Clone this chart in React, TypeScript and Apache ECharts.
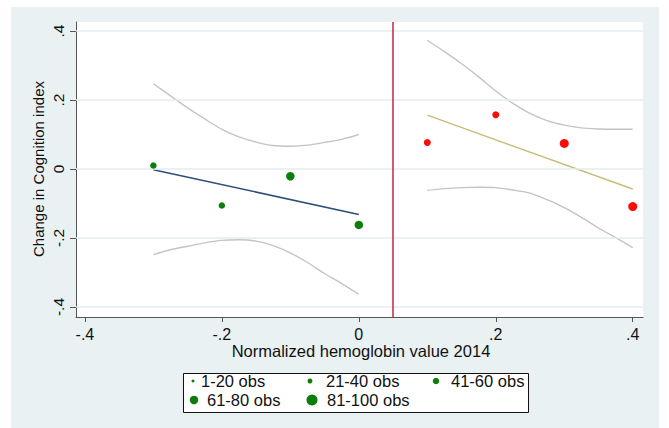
import { useEffect, useRef } from "react";
import * as echarts from "echarts";

// observed group means (x = normalized hemoglobin, y = change in cognition)
const lowX = [-0.3, -0.2, -0.1, 0];
const lowY = [0.01, -0.106, -0.021, -0.162];
const lowBin = [2, 2, 3, 3];

const highX = [0.1, 0.2, 0.3, 0.4];
const highY = [0.077, 0.157, 0.074, -0.109];
const highBin = [2, 2, 3, 3];

// fitted lines
const lowFitX = [-0.3, 0];
const lowFitY = [-0.002, -0.132];
const highFitX = [0.1, 0.4];
const highFitY = [0.156, -0.058];

// confidence bands (read every .025)
const lowCIx = [-0.3, -0.275, -0.25, -0.225, -0.2, -0.175, -0.15, -0.125, -0.1, -0.075, -0.05, -0.025, 0];
const lowUpper = [0.247, 0.212, 0.177, 0.145, 0.115, 0.093, 0.078, 0.068, 0.066, 0.069, 0.077, 0.086, 0.1];
const lowLower = [-0.248, -0.234, -0.224, -0.214, -0.207, -0.205, -0.209, -0.222, -0.243, -0.271, -0.303, -0.332, -0.363];
const highCIx = [0.1, 0.125, 0.15, 0.175, 0.2, 0.225, 0.25, 0.275, 0.3, 0.325, 0.35, 0.375, 0.4];
const highUpper = [0.373, 0.34, 0.305, 0.267, 0.226, 0.19, 0.161, 0.14, 0.127, 0.119, 0.116, 0.115, 0.115];
const highLower = [-0.062, -0.057, -0.054, -0.053, -0.054, -0.061, -0.07, -0.089, -0.112, -0.14, -0.171, -0.199, -0.228];

const cutoff = 0.05;
const xTicks = [-0.4, -0.2, 0, 0.2, 0.4];
const yTicks = [-0.4, -0.2, 0, 0.2, 0.4];
const legendLabels = ["1-20 obs", "21-40 obs", "41-60 obs", "61-80 obs", "81-100 obs"];

const BIN_SIZE = [3, 5, 6.5, 8.5, 11];
const FONT = "'Liberation Sans', Arial, sans-serif";
const GREEN = "#0B7E0B";
const RED = "#FF0A0A";
const CI_GRAY = "#C4C4C4";

function fmt(v: number): string {
  if (Math.abs(v) < 1e-9) return "0";
  const s = String(Math.round(Math.abs(v) * 10) / 10).replace(/^0/, "");
  return (v < 0 ? "-" : "") + s;
}

function zip(xs: number[], ys: number[]) {
  return xs.map((x, i) => [x, ys[i]]);
}

export default function App() {
  const ref = useRef<HTMLDivElement>(null);

  useEffect(() => {
    if (!ref.current) return;
    const chart = echarts.init(ref.current, undefined, { renderer: "svg" });

    // legend drawn by hand (per-item marker sizes)
    const legendPos = [
      { sx: 193, tx: 201, y: 381 },
      { sx: 310, tx: 326, y: 381 },
      { sx: 436, tx: 451, y: 381 },
      { sx: 194, tx: 207, y: 400 },
      { sx: 312, tx: 327, y: 400 },
    ];
    const legendGraphics: any[] = [
      {
        type: "rect",
        shape: { x: 183.5, y: 373.5, width: 345, height: 39 },
        style: { fill: "#fff", stroke: "#111", lineWidth: 1 },
      },
    ];
    legendLabels.forEach((label, i) => {
      const p = legendPos[i];
      legendGraphics.push({
        type: "circle",
        shape: { cx: p.sx, cy: p.y, r: BIN_SIZE[i] / 2 },
        style: { fill: GREEN },
      });
      legendGraphics.push({
        type: "text",
        x: p.tx,
        y: p.y,
        style: { text: label, fontSize: 16.5, fontFamily: FONT, fill: "#111", align: "left", verticalAlign: "middle" },
      });
    });

    const ciLine = (xs: number[], ys: number[]) => ({
      type: "line",
      data: zip(xs, ys),
      smooth: 0.3,
      showSymbol: false,
      lineStyle: { color: CI_GRAY, width: 1.4 },
      z: 3,
    });

    chart.setOption({
      animation: false,
      grid: { left: 76, top: 22, width: 567, height: 295, show: true, backgroundColor: "#fff", borderWidth: 0 },
      xAxis: {
        type: "value",
        min: -0.413,
        max: 0.415,
        axisLine: { onZero: false, lineStyle: { color: "#555", width: 1 } },
        axisTick: { customValues: xTicks, length: 5, lineStyle: { color: "#555" } },
        axisLabel: { customValues: xTicks, formatter: fmt, fontSize: 16, fontFamily: FONT, color: "#111", margin: 9 },
        splitLine: { show: false },
      },
      yAxis: {
        type: "value",
        min: -0.429,
        max: 0.426,
        axisLine: { show: true, onZero: false, lineStyle: { color: "#555", width: 1 } },
        axisTick: { show: true, customValues: yTicks, length: 6, lineStyle: { color: "#555" } },
        axisLabel: { customValues: yTicks, formatter: fmt, rotate: 90, fontSize: 15.5, fontFamily: FONT, color: "#111", margin: 10 },
        splitLine: { show: false },
      },
      graphic: [
        {
          type: "text",
          x: 38,
          y: 169,
          rotation: Math.PI / 2,
          style: { text: "Change in Cognition index", fontSize: 15, fontFamily: FONT, fill: "#111", align: "center", verticalAlign: "middle" },
        },
        {
          type: "text",
          x: 361,
          y: 351,
          style: { text: "Normalized hemoglobin value 2014", fontSize: 16.5, fontFamily: FONT, fill: "#111", align: "center", verticalAlign: "middle" },
        },
        ...legendGraphics,
      ],
      series: [
        {
          // horizontal grid lines + cutoff
          type: "line",
          data: [],
          z: 1,
          markLine: {
            silent: true,
            symbol: "none",
            label: { show: false },
            animation: false,
            data: [
              ...yTicks.map((v) => ({ yAxis: v, lineStyle: { color: "#E2ECEF", width: 1.5, type: "solid" } })),
              { xAxis: cutoff, lineStyle: { color: "#C42447", width: 1.5, type: "solid" } },
            ],
          },
        },
        ciLine(lowCIx, lowUpper),
        ciLine(lowCIx, lowLower),
        ciLine(highCIx, highUpper),
        ciLine(highCIx, highLower),
        {
          type: "line",
          data: zip(lowFitX, lowFitY),
          showSymbol: false,
          lineStyle: { color: "#2E4F7A", width: 1.5 },
          z: 4,
        },
        {
          type: "line",
          data: zip(highFitX, highFitY),
          showSymbol: false,
          lineStyle: { color: "#C8BC78", width: 1.4 },
          z: 4,
        },
        {
          type: "scatter",
          data: lowX.map((x, i) => [x, lowY[i], lowBin[i]]),
          symbolSize: (v: number[]) => BIN_SIZE[v[2]],
          itemStyle: { color: GREEN, opacity: 1 },
          z: 5,
        },
        {
          type: "scatter",
          data: highX.map((x, i) => [x, highY[i], highBin[i]]),
          symbolSize: (v: number[]) => BIN_SIZE[v[2]] + 0.5,
          itemStyle: { color: RED, opacity: 1 },
          z: 5,
        },
      ],
    });

    return () => chart.dispose();
  }, []);

  return (
    <div style={{ position: "absolute", left: 0, top: 0, width: 669, height: 428, background: "#fff" }}>
      <div style={{ position: "absolute", left: 11, top: 7, width: 648, height: 421, background: "#EAF1F3" }} />
      <div ref={ref} style={{ position: "absolute", left: 0, top: 0, width: 669, height: 428 }} />
    </div>
  );
}
